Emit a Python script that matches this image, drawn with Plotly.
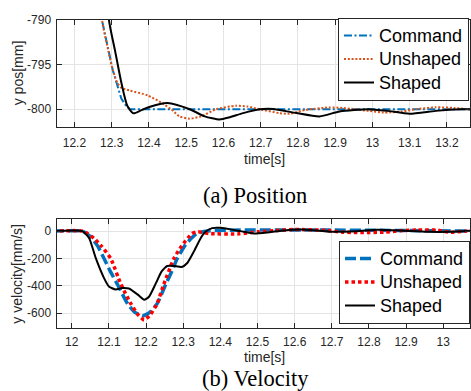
import plotly.graph_objects as go

# ---------------- data: position (top) ----------------
pos_t_cmd = [12.15, 12.20, 12.24, 12.274, 12.291, 12.303, 12.313, 12.326, 12.34, 12.35, 13.27]
pos_cmd = [-735, -758, -777, -790, -793.4, -795.6, -797.0, -798.8, -799.7, -800.0, -800.0]

pos_t_uns = [12.15, 12.20, 12.25, 12.274, 12.291, 12.303, 12.315, 12.326, 12.349, 12.397, 12.433,
             12.46, 12.482, 12.509, 12.54, 12.58, 12.634, 12.665, 12.698, 12.75, 12.777, 12.821,
             12.884, 12.92, 12.99, 13.03, 13.08, 13.116, 13.17, 13.22, 13.27]
pos_uns = [-735, -758, -780, -790, -793.4, -795.6, -797.0, -797.6, -797.9, -798.45, -799.25,
           -800.0, -800.8, -801.05, -800.8, -800.0, -799.6, -799.7, -800.0, -800.43, -800.5, -800.07,
           -799.8, -799.85, -800.18, -800.36, -800.25, -800.0, -799.78, -799.85, -800.05]

pos_t_shp = [12.15, 12.20, 12.25, 12.2928, 12.309, 12.326, 12.342, 12.358, 12.38, 12.401, 12.45,
             12.51, 12.55, 12.59, 12.617, 12.653, 12.698, 12.733, 12.796, 12.858, 12.912, 12.99,
             13.04, 13.10, 13.17, 13.24, 13.27]
pos_shp = [-700, -735, -768, -790, -793.4, -797.0, -799.6, -800.45, -800.1, -799.74, -799.3,
           -800.0, -800.8, -801.15, -800.9, -800.43, -800.0, -799.97, -800.43, -800.8, -800.25, -800.0,
           -800.18, -800.5, -800.18, -800.0, -800.0]

# ---------------- data: velocity (bottom) ----------------
vel_t_cmd = [11.95, 12.029, 12.05, 12.07, 12.087, 12.105, 12.123, 12.15, 12.17, 12.192, 12.21,
             12.23, 12.253, 12.27, 12.284, 12.306, 12.333, 12.36, 13.08]
vel_cmd = [0, 0, -40, -110, -200, -300, -390, -530, -595, -619, -595,
           -530, -390, -290, -200, -100, -25, 0, 0]

vel_t_uns = [11.95, 12.03, 12.06, 12.08, 12.105, 12.132, 12.159, 12.178, 12.195, 12.212, 12.23,
             12.248, 12.275, 12.296, 12.324, 12.34, 12.37, 12.45, 12.50, 12.55, 12.60, 12.687,
             12.73, 12.84, 12.884, 12.93, 12.98, 13.02, 13.06, 13.08]
vel_uns = [0, 0, -52, -110, -200, -387, -530, -610, -650, -610, -530,
           -387, -200, -108, -17, -5, -18, -20, -5, 5, 12, 5,
           -8, -8, 3, 8, 8, -8, 0, 0]

vel_t_shp = [11.95, 12.029, 12.047, 12.065, 12.087, 12.10, 12.118, 12.136, 12.154, 12.177, 12.195,
             12.208, 12.226, 12.242, 12.257, 12.275, 12.296, 12.311, 12.329, 12.347, 12.36, 12.378,
             12.40, 12.454, 12.49, 12.526, 12.571, 12.616, 12.66, 12.705, 12.768, 12.822, 12.884,
             12.956, 13.019, 13.08]
vel_shp = [0, 0, -52, -200, -344, -405, -427, -416, -420, -463, -502,
           -480, -384, -294, -255, -255, -262, -233, -148, -52, -5, 22,
           24, 0, -17, -10, 5, 12, 5, -5, 0, 10, 5,
           -5, -5, 5]

# ---------------- ticks / labels ----------------
pos_xticks = [12.2, 12.3, 12.4, 12.5, 12.6, 12.7, 12.8, 12.9, 13.0, 13.1, 13.2]
pos_xtext = ["12.2", "12.3", "12.4", "12.5", "12.6", "12.7", "12.8", "12.9", "13", "13.1", "13.2"]
pos_yticks = [-800, -795, -790]
pos_ytext = ["-800", "-795", "-790"]
vel_xticks = [12.0, 12.1, 12.2, 12.3, 12.4, 12.5, 12.6, 12.7, 12.8, 12.9, 13.0]
vel_xtext = ["12", "12.1", "12.2", "12.3", "12.4", "12.5", "12.6", "12.7", "12.8", "12.9", "13"]
vel_yticks = [-600, -400, -200, 0]
vel_ytext = ["-600", "-400", "-200", "0"]
series_names = ["Command", "Unshaped", "Shaped"]

W, H = 471, 391
AX = "#262626"
GRID = "#e4e4e4"
SANS = "Liberation Sans, Arial, sans-serif"
SERIF = "Liberation Serif, Times New Roman, serif"


def lg(name):
    # legend text drawn at 18px while row spacing follows the legend font size
    return '<span style="font-size:18px">' + name + '</span>'


fig = go.Figure()

# top traces
fig.add_trace(go.Scatter(x=pos_t_cmd, y=pos_cmd, name=lg(series_names[0]), mode="lines",
                         line=dict(color="#0072BD", width=2, dash="8px,2.5px,2px,2.5px"),
                         xaxis="x", yaxis="y", legend="legend"))
fig.add_trace(go.Scatter(x=pos_t_uns, y=pos_uns, name=lg(series_names[1]), mode="lines",
                         line=dict(color="#D95319", width=2, dash="2px,1.8px", shape="spline", smoothing=0.6),
                         xaxis="x", yaxis="y", legend="legend"))
fig.add_trace(go.Scatter(x=pos_t_shp, y=pos_shp, name=lg(series_names[2]), mode="lines",
                         line=dict(color="black", width=2, shape="spline", smoothing=0.6),
                         xaxis="x", yaxis="y", legend="legend"))

# bottom traces
fig.add_trace(go.Scatter(x=vel_t_cmd, y=vel_cmd, name=lg(series_names[0]), mode="lines",
                         line=dict(color="#0072BD", width=3.5, dash="11px,4px", shape="spline", smoothing=0.5),
                         xaxis="x2", yaxis="y2", legend="legend2"))
fig.add_trace(go.Scatter(x=vel_t_uns, y=vel_uns, name=lg(series_names[1]), mode="lines",
                         line=dict(color="#FF0000", width=3.5, dash="3.5px,3px", shape="spline", smoothing=0.5),
                         xaxis="x2", yaxis="y2", legend="legend2"))
fig.add_trace(go.Scatter(x=vel_t_shp, y=vel_shp, name=lg(series_names[2]), mode="lines",
                         line=dict(color="black", width=2, shape="spline", smoothing=0.5),
                         xaxis="x2", yaxis="y2", legend="legend2"))

xdom = [56.5 / W, 470 / W]
axis_common = dict(showline=True, linecolor=AX, linewidth=1, mirror="ticks",
                   ticks="inside", ticklen=5, tickcolor=AX, tickwidth=1,
                   showgrid=True, gridcolor=GRID, gridwidth=1, zeroline=False,
                   tickfont=dict(family=SANS, size=12, color=AX))

LEG_FS = 15.77
fig.update_layout(
    width=W, height=H,
    margin=dict(l=0, r=0, t=0, b=0),
    paper_bgcolor="white", plot_bgcolor="white",
    xaxis=dict(domain=xdom, anchor="y", range=[12.152, 13.262], ticklabelstandoff=4,
               tickvals=pos_xticks, ticktext=pos_xtext, **axis_common),
    yaxis=dict(domain=[1 - 122.3 / H, 1 - 13.3 / H], anchor="x", range=[-802, -790],
               ticklabelstandoff=2, tickvals=pos_yticks, ticktext=pos_ytext, **axis_common),
    xaxis2=dict(domain=xdom, anchor="y2", range=[11.959, 13.072], ticklabelstandoff=2,
                tickvals=vel_xticks, ticktext=vel_xtext, **axis_common),
    yaxis2=dict(domain=[1 - 327.3 / H, 1 - 215.7 / H], anchor="x2", range=[-712, 90],
                ticklabelstandoff=2, tickvals=vel_yticks, ticktext=vel_ytext, **axis_common),
    legend=dict(x=469 / W, xanchor="right", y=1 - 11 / H, yanchor="top",
                bgcolor="white", bordercolor=AX, borderwidth=1,
                font=dict(family=SANS, size=LEG_FS, color="black"), tracegroupgap=0),
    legend2=dict(x=470 / W, xanchor="right", y=1 - 238 / H, yanchor="top",
                 bgcolor="white", bordercolor=AX, borderwidth=1,
                 font=dict(family=SANS, size=LEG_FS, color="black"), tracegroupgap=0),
    showlegend=True,
)

ann = [
    dict(text="y pos[mm]", x=17.5 / W, y=1 - 67 / H, textangle=-90, size=14, fam=SANS, col=AX),
    dict(text="time[s]", x=264.5 / W, y=1 - 155 / H, textangle=0, size=14, fam=SANS, col=AX),
    dict(text="y velocity[mm/s]", x=17.5 / W, y=1 - 272 / H, textangle=-90, size=14, fam=SANS, col=AX),
    dict(text="time[s]", x=264.5 / W, y=1 - 356.5 / H, textangle=0, size=14, fam=SANS, col=AX),
    dict(text="(a) Position", x=255 / W, y=1 - 192 / H, textangle=0, size=22.5, fam=SERIF, col="black"),
    dict(text="(b) Velocity", x=255.5 / W, y=1 - 377.8 / H, textangle=0, size=22.5, fam=SERIF, col="black"),
]
for a in ann:
    fig.add_annotation(text=a["text"], x=a["x"], y=a["y"], xref="paper", yref="paper",
                       xanchor="center", yanchor="middle", showarrow=False,
                       textangle=a["textangle"],
                       font=dict(family=a["fam"], size=a["size"], color=a["col"]))

fig.write_html("out.html")
